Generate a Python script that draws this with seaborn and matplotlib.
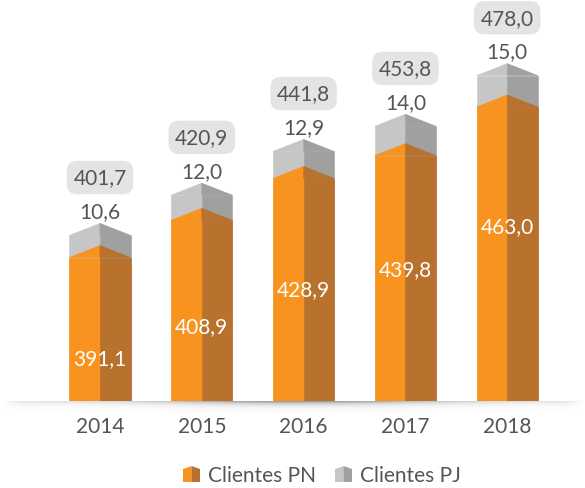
import numpy as np
import pandas as pd
import matplotlib.pyplot as plt
from matplotlib.patches import Polygon, Rectangle
import seaborn as sns

# Dados
anos = ["2014", "2015", "2016", "2017", "2018"]
clientes_pn = [391.1, 408.9, 428.9, 439.8, 463.0]
clientes_pj = [10.6, 12.0, 12.9, 14.0, 15.0]
totais = [401.7, 420.9, 441.8, 453.8, 478.0]

# Cores
laranja = "#F7931E"
laranja_esc = "#B8722D"
cinza = "#C6C6C6"
cinza_esc = "#A0A09F"
texto = "#555555"

sns.set_theme(style="white")
plt.rcParams["font.family"] = ["Lato", "DejaVu Sans"]


def fmt(v):
    return f"{v:.1f}".replace(".", ",")


df = pd.DataFrame({"ano": anos, "pn": clientes_pn, "pj": clientes_pj, "total": totais})

W, H = 585, 489
fig = plt.figure(figsize=(W / 100, H / 100), dpi=100)
ax = fig.add_axes([0, 87 / H, 1, 402 / H])

sns.barplot(data=df, x="ano", y="total", color=cinza, width=0.6, saturation=1,
            linewidth=0, ax=ax)
sns.barplot(data=df, x="ano", y="pn", color=laranja, width=0.6, saturation=1,
            linewidth=0, ax=ax)

y0 = 322.6
ax.set_ylim(y0, y0 + 402 / 2.094)
ax.set_xlim(-0.982, 4.764)
d = 12 / 2.094  # altura da "ponta" no topo

barras = list(ax.patches)
for k, p in enumerate(barras):
    claro, escuro = (cinza, cinza_esc) if k < 5 else (laranja, laranja_esc)
    z = 2 if k < 5 else 3
    x0, w, h = p.get_x(), p.get_width(), p.get_height()
    xc, x1 = x0 + w / 2, x0 + w
    p.set_width(w / 2)
    p.set_zorder(z)
    p.set_edgecolor(claro)
    p.set_linewidth(0.4)
    ax.add_patch(Rectangle((xc, 0), w / 2, h, facecolor=escuro, edgecolor=escuro,
                           lw=0.4, zorder=z))
    ax.add_patch(Polygon([(x0, h), (xc, h + d), (xc, h)], closed=True,
                         facecolor=claro, edgecolor=claro, lw=0.4, zorder=z))
    ax.add_patch(Polygon([(xc, h), (xc, h + d), (x1, h)], closed=True,
                         facecolor=escuro, edgecolor=escuro, lw=0.4, zorder=z))

for i in range(len(anos)):
    topo = totais[i] + d
    ax.annotate(fmt(clientes_pj[i]), (i, topo), xytext=(0, 9), textcoords="offset points",
                ha="center", va="center", fontsize=15, color=texto)
    ax.annotate(fmt(totais[i]), (i, topo), xytext=(0, 33), textcoords="offset points",
                ha="center", va="center", fontsize=15, color=texto,
                bbox=dict(boxstyle="round,pad=0.32,rounding_size=0.5",
                          facecolor="#E4E4E4", edgecolor="none"))
    ax.text(i, clientes_pn[i] * 0.877, fmt(clientes_pn[i]), ha="center", va="center",
            fontsize=15, color="white", zorder=5)

ax.set_xlabel("")
ax.set_ylabel("")
ax.set_yticks([])
ax.set_xticks(range(len(anos)))
ax.set_xticklabels(anos, fontsize=15, color=texto)
ax.tick_params(axis="x", length=0, pad=11)
for s in ax.spines.values():
    s.set_visible(False)

# sombra da linha de base
sh = fig.add_axes([0, (H - 414) / H, 1, 12 / H])
xs = np.linspace(0, W, 585)
horiz = 0.25 + 0.75 * np.exp(-((xs - 300) / 140) ** 2)
horiz *= np.clip(xs / 20, 0, 1) * np.clip((W - xs) / 20, 0, 1)
vert = np.exp(-np.arange(12) / 3.0)
alpha = 0.55 * np.outer(vert, horiz)
img = np.zeros((12, 585, 4))
img[..., :3] = 0.3
img[..., 3] = alpha
sh.imshow(img, aspect="auto", interpolation="bilinear")
sh.axis("off")


# legenda
def icone(x0, cor1, cor2):
    xc, x1 = x0 + 8.5, x0 + 17
    def f(px, py):
        return (px / W, (H - py) / H)
    fig.add_artist(Polygon([f(x0, 483), f(x0, 470), f(xc, 467), f(xc, 483)],
                           closed=True, facecolor=cor1, edgecolor="none",
                           transform=fig.transFigure))
    fig.add_artist(Polygon([f(xc, 483), f(xc, 467), f(x1, 470), f(x1, 483)],
                           closed=True, facecolor=cor2, edgecolor="none",
                           transform=fig.transFigure))


icone(183, laranja, laranja_esc)
fig.text(208 / W, (H - 476) / H, "Clientes PN", fontsize=15, color=texto, va="center")
icone(335, cinza, cinza_esc)
fig.text(360 / W, (H - 476) / H, "Clientes PJ", fontsize=15, color=texto, va="center")

fig.savefig("out.png", dpi=100, facecolor="white")
